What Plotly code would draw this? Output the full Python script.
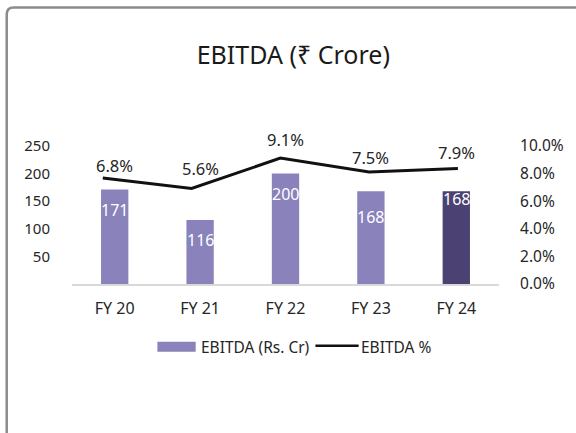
import plotly.graph_objects as go

# ---- data ----
categories = ["FY 20", "FY 21", "FY 22", "FY 23", "FY 24"]
ebitda_cr = [171, 116, 200, 168, 168]
ebitda_pct = [6.8, 5.6, 9.1, 7.5, 7.9]
left_ticks = [50, 100, 150, 200, 250]
right_ticks = [0, 2, 4, 6, 8, 10]
right_tick_labels = ["0.0%", "2.0%", "4.0%", "6.0%", "8.0%", "10.0%"]
series_names = ["EBITDA (Rs. Cr)", "EBITDA %"]

# ---- styling ----
FONT = "Noto Sans"
TXT = "#262626"
BAR = "#8982BB"
BAR_DARK = "#4B4173"
LINE = "#111111"
bar_colors = [BAR, BAR, BAR, BAR, BAR_DARK]
bar_label_shift = [-20, -20, -20, -26, -8]
pct_label_shift = [13, 20, 19, 15, 16]

W, H = 576, 433
ML, MR, MT, MB = 72, 69, 146, 149
PW, PH = W - ML - MR, H - MT - MB


def px_x(p):
    return (p - ML) / PW


def px_y(p):
    return (H - MB - p) / PH


fig = go.Figure()

fig.add_trace(go.Bar(
    x=categories, y=ebitda_cr, name=series_names[0],
    marker=dict(color=bar_colors, line=dict(width=0)),
    width=0.32, xaxis="x", yaxis="y", hoverinfo="skip", showlegend=False,
))

fig.add_trace(go.Scatter(
    x=categories, y=ebitda_pct, name=series_names[1], mode="lines",
    line=dict(color=LINE, width=3),
    xaxis="x2", yaxis="y3", hoverinfo="skip", showlegend=False,
))

# invisible helper so the right-hand axis is drawn
fig.add_trace(go.Scatter(
    x=categories, y=ebitda_pct, mode="markers", opacity=0,
    showlegend=False, xaxis="x", yaxis="y2", hoverinfo="skip",
))

annotations = []
for c, v, s in zip(categories, ebitda_cr, bar_label_shift):
    annotations.append(dict(x=c, y=v, xref="x", yref="y", text=str(v),
                            showarrow=False, yshift=s,
                            font=dict(family=FONT, size=16, color="white")))
for c, v, s in zip(categories, ebitda_pct, pct_label_shift):
    annotations.append(dict(x=c, y=v, xref="x", yref="y3", text=f"{v:.1f}%",
                            showarrow=False, yshift=s,
                            font=dict(family=FONT, size=16.5, color=TXT)))

# legend (drawn as swatches + text)
LEG_Y = 346.7
annotations.append(dict(x=px_x(201), y=px_y(LEG_Y), xref="paper", yref="paper",
                        xanchor="left", yanchor="middle", showarrow=False,
                        text=series_names[0],
                        font=dict(family=FONT, size=15.5, color=TXT)))
annotations.append(dict(x=px_x(364), y=px_y(LEG_Y), xref="paper", yref="paper",
                        xanchor="left", yanchor="middle", showarrow=False,
                        text=series_names[1],
                        font=dict(family=FONT, size=15.5, color=TXT)))

# rounded frame (extends past the window on right/bottom)
x0, yt, r = px_x(5.5), px_y(7.5), 7
frame = (f"M {x0},{px_y(460)} L {x0},{px_y(7.5 + r)} "
         f"Q {x0},{yt} {px_x(5.5 + r)},{yt} L {px_x(600)},{yt}")

shapes = [
    dict(type="path", path=frame, xref="paper", yref="paper",
         line=dict(color="#8C8C8C", width=2.5)),
    dict(type="rect", xref="paper", yref="paper",
         x0=px_x(159), x1=px_x(198), y0=px_y(341.7), y1=px_y(351.7),
         fillcolor=BAR, line=dict(width=0)),
    dict(type="line", xref="paper", yref="paper",
         x0=px_x(320), x1=px_x(364), y0=px_y(345.7), y1=px_y(345.7),
         line=dict(color=LINE, width=2.5)),
]

fig.update_layout(
    width=W, height=H,
    margin=dict(l=ML, r=MR, t=MT, b=MB, pad=0),
    paper_bgcolor="white", plot_bgcolor="white",
    font=dict(family=FONT, color=TXT, size=15),
    title=dict(text="EBITDA (₹ Crore)", x=px_x(293.5), xanchor="center",
               y=1 - 55 / H, yanchor="middle",
               font=dict(family=FONT, size=25, color="#1a1a1a")),
    showlegend=False,
    xaxis=dict(type="category", range=[-0.5, 4.5], showgrid=False,
               showline=True, linecolor="#D9D9D9", linewidth=2,
               ticks="outside", ticklen=9, tickcolor="rgba(0,0,0,0)",
               tickfont=dict(size=16, color=TXT), zeroline=False),
    xaxis2=dict(type="category", overlaying="x", range=[-0.347, 4.463],
                visible=False, showgrid=False),
    yaxis=dict(range=[0, 250], tickvals=left_ticks, showgrid=False,
               zeroline=False, ticks="outside", ticklen=18,
               tickcolor="rgba(0,0,0,0)", tickfont=dict(size=15, color=TXT)),
    yaxis2=dict(range=[0, 10], overlaying="y", side="right", anchor="x",
                tickmode="array", tickvals=right_ticks,
                ticktext=right_tick_labels,
                showgrid=False, zeroline=False, ticks="outside", ticklen=17,
                tickcolor="rgba(0,0,0,0)", tickfont=dict(size=15.5, color=TXT)),
    yaxis3=dict(range=[-5.41, 10.50], overlaying="y", anchor="x2",
                visible=False, showgrid=False),
    annotations=annotations,
    shapes=shapes,
)

fig.write_html("out.html", config={"displayModeBar": False},
               post_script="document.body.style.margin='0';"
                           "document.body.style.padding='0';")
